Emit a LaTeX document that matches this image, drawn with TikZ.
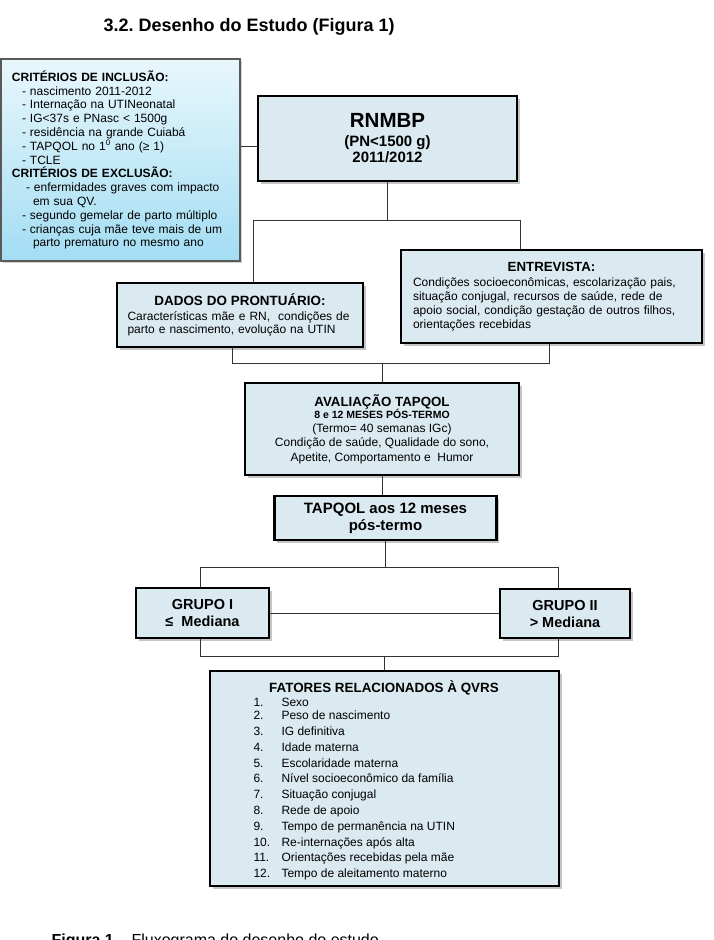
\documentclass[tikz,border=0pt]{standalone}
\usepackage{fontspec}
\setmainfont{Liberation Sans}
\usetikzlibrary{shadows}
\definecolor{boxblue}{RGB}{219,234,240}
\definecolor{inctop}{RGB}{232,247,252}
\definecolor{incbot}{RGB}{163,221,243}
\newcommand\fsz[2]{\fontsize{#1}{#2}\selectfont}
\frenchspacing
\begin{document}
\begin{tikzpicture}[x=1pt,y=-1pt,
flowbox/.style={draw=black,line width=2.4pt,fill=boxblue,inner sep=0pt,
  drop shadow={shadow xshift=2.5pt,shadow yshift=-2.5pt,fill=black!45}},
incbox/.style={draw=black!65,line width=1.2pt,top color=inctop,bottom color=incbot,
  drop shadow={shadow xshift=2pt,shadow yshift=-2pt,fill=black!35}},
conn/.style={draw=black!80,line width=1pt}]
\useasboundingbox (0,0) rectangle (714,940);
\node[anchor=base west,font=\fsz{18}{20}\bfseries] (title) at (100,31) {3.2. Desenho do Estudo (Figura 1)};
\node[incbox,minimum width=239pt,minimum height=202pt,text width=217pt,inner xsep=11pt,inner ysep=0pt,
  align=left,font=\fsz{12}{13.8}] (incl) at (120.5,160) {\textbf{CRITÉRIOS DE INCLUSÃO:}\\
\hspace*{10pt}- nascimento 2011-2012\\
\hspace*{10pt}- Internação na UTINeonatal\\
\hspace*{10pt}- IG<37s e PNasc < 1500g\\
\hspace*{10pt}- residência na grande Cuiabá\\
\hspace*{10pt}- TAPQOL no 1\textsuperscript{0} ano (≥ 1)\\
\hspace*{10pt}- TCLE\\
\textbf{CRITÉRIOS DE EXCLUSÃO:}\\
\hspace*{14pt}- enfermidades graves com impacto\\
\hspace*{21pt}em sua QV.\\
\hspace*{10pt}- segundo gemelar de parto múltiplo\\
\hspace*{10pt}- crianças cuja mãe teve mais de um\\
\hspace*{21pt}parto prematuro no mesmo ano};
\node[flowbox,minimum width=259pt,minimum height=85pt,align=center,font=\fsz{15}{16}\bfseries] (rn) at (387.5,138.5)
  {{\fsz{20.5}{22}RNMBP}\\[3pt](PN<1500 g)\\2011/2012};
\node[flowbox,minimum width=301pt,minimum height=93pt,text width=277pt,align=left,font=\fsz{12}{14}] (entr) at (551.5,296.5)
  {\makebox[\linewidth]{\fsz{13.3}{15}\bfseries ENTREVISTA:}\\[1pt]
Condições socioeconômicas, escolarização pais,\\
situação conjugal, recursos de saúde, rede de\\
apoio social, condição gestação de outros filhos,\\
orientações recebidas};
\node[flowbox,minimum width=246pt,minimum height=64pt,text width=225pt,align=left,font=\fsz{12}{13.5}] (dados) at (240,315)
  {\makebox[\linewidth]{\fsz{13.4}{15}\bfseries DADOS DO PRONTUÁRIO:}\\[1.5pt]
Características mãe e RN,\ \ condições de\\
parto e nascimento, evolução na UTIN};
\node[flowbox,minimum width=274pt,minimum height=92pt,align=center,font=\fsz{12}{14.3}] (aval) at (382,429)
  {{\fsz{13.3}{15}\bfseries AVALIAÇÃO TAPQOL}\\[-2pt]{\fsz{10.5}{12}\bfseries 8 e 12 MESES PÓS-TERMO}\\
(Termo= 40 semanas IGc)\\Condição de saúde, Qualidade do sono,\\Apetite, Comportamento e\ \ Humor};
\node[flowbox,minimum width=222pt,minimum height=44pt,align=center,font=\fsz{15}{17}\bfseries] (tap) at (385.5,518)
  {TAPQOL aos 12 meses\\pós-termo};
\node[flowbox,minimum width=133pt,minimum height=50pt,align=center,font=\fsz{14.5}{17}\bfseries] (g1) at (202.5,613)
  {GRUPO I\\≤\ \ Mediana};
\node[flowbox,minimum width=130pt,minimum height=49pt,align=center,font=\fsz{14.5}{17}\bfseries] (g2) at (565,613.5)
  {GRUPO II\\> Mediana};
\node[flowbox,minimum width=349pt,minimum height=215pt] (fat) at (384.5,778.5) {};
\node[anchor=base,font=\fsz{13.4}{15}\bfseries] (fhead) at (384,692) {FATORES RELACIONADOS À QVRS};
\foreach \i/\yy/\txt in {1/706/Sexo,2/719/Peso de nascimento,3/735/IG definitiva,4/751/Idade materna,
  5/767/Escolaridade materna,6/782/Nível socioeconômico da família,7/798/Situação conjugal,
  8/814/Rede de apoio,9/830/Tempo de permanência na UTIN,10/846/Re-internações após alta,
  11/861/Orientações recebidas pela mãe,12/877/Tempo de aleitamento materno}
  \node[anchor=base west,font=\fsz{12}{14}] (f\i) at (250,\yy) {\makebox[28pt][l]{\i.}\txt};
\node[anchor=base west,font=\fsz{16}{18}] (cap) at (48,945) {\textbf{Figura 1} – Fluxograma do desenho do estudo};
\coordinate (j0) at (250,146);
\draw[conn] (incl.east |- j0) -- (rn.west |- j0);
\coordinate (ja) at (253,220);
\coordinate (jb) at (520,220);
\draw[conn] (rn.south) -- (rn.south |- ja);
\draw[conn] (ja |- dados.north) -- (ja) -- (jb) -- (jb |- entr.north);
\coordinate (jc) at (232,363);
\coordinate (jd) at (549,363);
\draw[conn] (jc |- dados.south) -- (jc) -- (jd) -- (jd |- entr.south);
\draw[conn] (aval.north) -- (aval.north |- jc);
\draw[conn] (aval.south) -- (tap.north -| aval.south);
\coordinate (je) at (200,567);
\coordinate (jf) at (558,567);
\draw[conn] (tap.south) -- (tap.south |- je);
\draw[conn] (je |- g1.north) -- (je) -- (jf) -- (jf |- g2.north);
\draw[conn] (g1.east) -- (g1.east -| g2.west);
\coordinate (jg) at (200,656);
\coordinate (jh) at (558,656);
\draw[conn] (jg |- g1.south) -- (jg) -- (jh) -- (jh |- g2.south);
\draw[conn] (fat.north) -- (fat.north |- jg);
\end{tikzpicture}
\end{document}
